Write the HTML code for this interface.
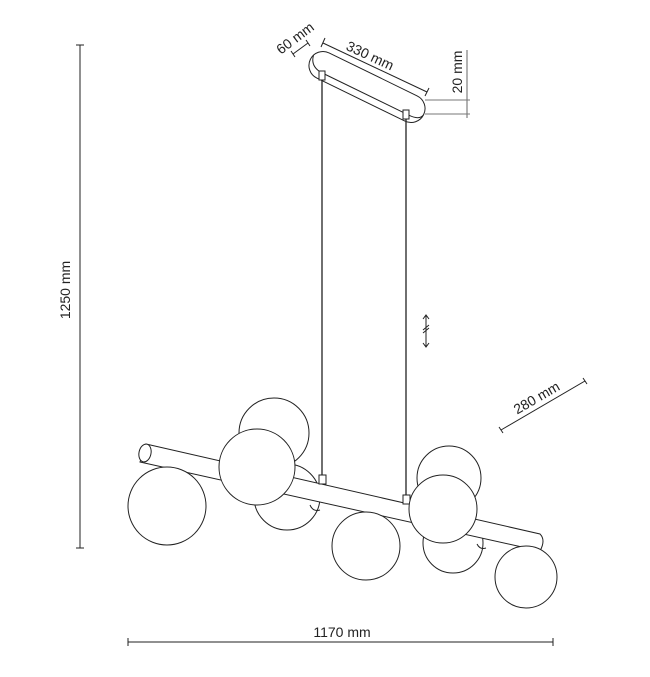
<!DOCTYPE html>
<html><head><meta charset="utf-8"><style>
html,body{margin:0;padding:0;background:#fff;}
svg{display:block;}
text{font-family:"Liberation Sans",sans-serif;font-size:14px;fill:#222;}
</style></head><body>
<svg width="650" height="677" viewBox="0 0 650 677" xmlns="http://www.w3.org/2000/svg">
<g stroke="#222" stroke-width="1" fill="none">
<line x1="80" y1="45" x2="80" y2="548"/>
<line x1="76" y1="45" x2="84" y2="45"/>
<line x1="76" y1="548" x2="84" y2="548"/>
<line x1="128" y1="642" x2="553" y2="642"/>
<line x1="128" y1="638" x2="128" y2="646"/>
<line x1="553" y1="638" x2="553" y2="646"/>
<line x1="501" y1="430" x2="585" y2="381"/>
<line x1="499" y1="427" x2="503" y2="433"/>
<line x1="583" y1="378" x2="587" y2="384"/>
<line x1="323" y1="43" x2="427" y2="92"/>
<line x1="325" y1="38" x2="321" y2="47"/>
<line x1="429" y1="88" x2="425" y2="96"/>
<line x1="293" y1="54" x2="308" y2="43"/>
<line x1="291" y1="51" x2="295" y2="57"/>
<line x1="306" y1="40" x2="310" y2="46"/>
<line x1="467" y1="50" x2="467" y2="118" stroke="#666"/>
<line x1="425" y1="100" x2="470" y2="100" stroke="#777"/>
<line x1="425" y1="114" x2="470" y2="114" stroke="#777"/>
<g transform="translate(367,87) rotate(26)">
<rect x="-63" y="-14" width="126" height="28" rx="14" fill="#fff"/>
<path d="M-62,-5 Q-60,6 -48,7 L50,7 Q62,7 63,0"/>
</g>
<rect x="319" y="71" width="6" height="9" fill="#fff"/>
<rect x="403" y="110" width="6" height="9" fill="#fff"/>
<line x1="322" y1="80" x2="322" y2="476" stroke-width="1.3"/>
<line x1="406" y1="119" x2="406" y2="496" stroke-width="1.3"/>
<path d="M426,316 L426,347 M423,319 L426,315 L429,319 M423,343 L426,347 L429,343 M423,330 L429,325 M423,333 L429,328"/>
<circle cx="274" cy="433" r="35" fill="#fff"/>
<circle cx="287" cy="497" r="33" fill="#fff"/>
<circle cx="449" cy="478" r="32" fill="#fff"/>
<circle cx="453" cy="543" r="30" fill="#fff"/>
<path d="M146,444 L540,534 Q546,540 540,551 L140,462 Z" fill="#fff"/>
<ellipse cx="145" cy="453" rx="6" ry="9" transform="rotate(12 145 453)" fill="#fff"/>
<path d="M310,505 q3,7 10,5 M477,544 q3,6 9,4"/>
<rect x="319" y="475" width="7" height="9" fill="#fff"/>
<rect x="403" y="495" width="7" height="9" fill="#fff"/>
<circle cx="257" cy="467" r="38" fill="#fff"/>
<circle cx="443" cy="509" r="34" fill="#fff"/>
<circle cx="167" cy="506" r="39" fill="#fff"/>
<circle cx="366" cy="546" r="34" fill="#fff"/>
<circle cx="526" cy="577" r="31" fill="#fff"/>
</g>
<text x="0" y="0" text-anchor="middle" transform="translate(70,290) rotate(-90)">1250 mm</text>
<text x="342" y="637" text-anchor="middle">1170 mm</text>
<text x="0" y="0" text-anchor="middle" transform="translate(539,402) rotate(-30)">280 mm</text>
<text x="0" y="0" text-anchor="middle" transform="translate(368,60) rotate(25)">330 mm</text>
<text x="0" y="0" text-anchor="middle" transform="translate(298,42) rotate(-37)">60 mm</text>
<text x="0" y="0" text-anchor="middle" transform="translate(462,72) rotate(-90)">20 mm</text>
</svg>
</body></html>
